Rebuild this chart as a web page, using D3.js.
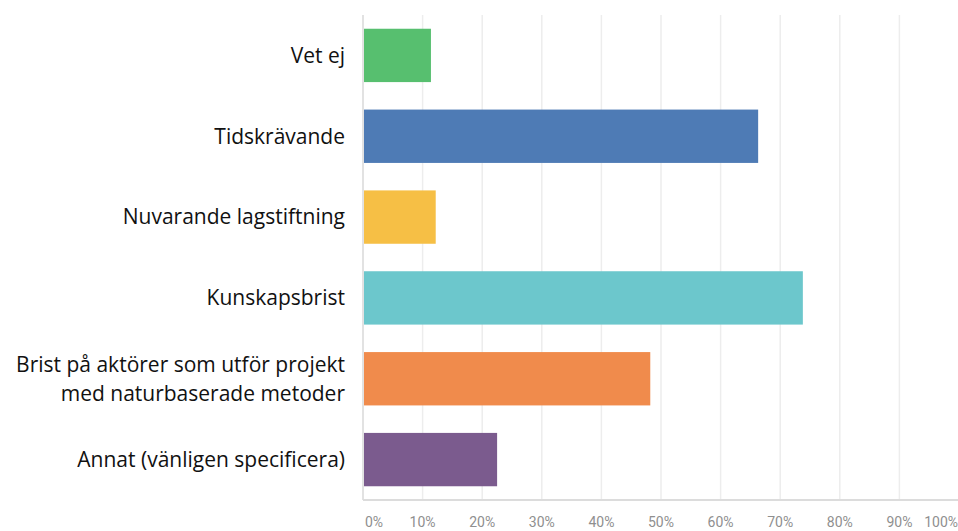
<!DOCTYPE html>
<html lang="sv">
<head>
<meta charset="utf-8">
<title>Hinder</title>
<script src="https://cdn.jsdelivr.net/npm/d3@7"></script>
<style>
  body { margin: 0; background: #fff; }
  .cat text { font-family: "Open Sans", sans-serif; font-size: 21px; fill: #111; }
  .xaxis text { font-family: "Roboto", sans-serif; font-size: 14px; fill: #8f8f8f; }
  .grid line { stroke: #ededed; stroke-width: 1.5; }
</style>
</head>
<body>
<script>
// data
var categories = ["Vet ej", "Tidskrävande", "Nuvarande lagstiftning", "Kunskapsbrist",
                  "Brist på aktörer som utför projekt\nmed naturbaserade metoder",
                  "Annat (vänligen specificera)"];
var values = [11.4, 66.3, 12.2, 73.8, 48.2, 22.5];
var colors = ["#57bf6f", "#4e7bb5", "#f6bf45", "#6cc7cc", "#f08b4c", "#7b5b8e"];
var ticks = [0, 10, 20, 30, 40, 50, 60, 70, 80, 90, 100];

var w = 958, h = 531;
var plotLeft = 363, plotRight = 959, plotTop = 15, plotBottom = 500;

var svg = d3.select("body").append("svg")
    .attr("width", w)
    .attr("height", h);

var x = d3.scaleLinear().domain([0, 100]).range([plotLeft, plotRight]);
var y = d3.scaleBand().domain(categories).range([plotTop, plotBottom]).paddingInner(0.34).paddingOuter(0.17);

// gridlines
svg.append("g").attr("class", "grid")
  .selectAll("line")
  .data(ticks.slice(1))
  .enter().append("line")
    .attr("x1", d => x(d)).attr("x2", d => x(d))
    .attr("y1", plotTop).attr("y2", plotBottom);

// bars
svg.append("g")
  .selectAll("rect")
  .data(values)
  .enter().append("rect")
    .attr("x", x(0))
    .attr("y", (d, i) => y(categories[i]))
    .attr("width", d => x(d) - x(0))
    .attr("height", y.bandwidth())
    .attr("fill", (d, i) => colors[i]);

// axis lines
svg.append("line")
  .attr("x1", x(0)).attr("x2", x(0))
  .attr("y1", plotTop).attr("y2", plotBottom)
  .attr("stroke", "#e2e2e2").attr("stroke-width", 2);
svg.append("line")
  .attr("x1", x(0)).attr("x2", w)
  .attr("y1", plotBottom).attr("y2", plotBottom)
  .attr("stroke", "#dcdcdc").attr("stroke-width", 2);

// x tick labels
var n = ticks.length;
svg.append("g").attr("class", "xaxis")
  .selectAll("text")
  .data(ticks)
  .enter().append("text")
    .attr("x", (d, i) => i === 0 ? x(d) + 2 : (i === n - 1 ? x(d) - 1 : x(d)))
    .attr("y", 527)
    .attr("text-anchor", (d, i) => i === 0 ? "start" : (i === n - 1 ? "end" : "middle"))
    .text(d => d + "%");

// category labels
var cat = svg.append("g").attr("class", "cat");
categories.forEach(function(c) {
  var lines = c.split("\n");
  var cy = y(c) + y.bandwidth() / 2;
  var lh = 29;
  var t = cat.append("text")
    .attr("text-anchor", "end")
    .attr("x", 345)
    .attr("y", cy - (lines.length - 1) * lh / 2);
  lines.forEach(function(l, j) {
    t.append("tspan").attr("x", 345).attr("dy", j === 0 ? "0.35em" : lh).text(l);
  });
});
</script>
</body>
</html>
